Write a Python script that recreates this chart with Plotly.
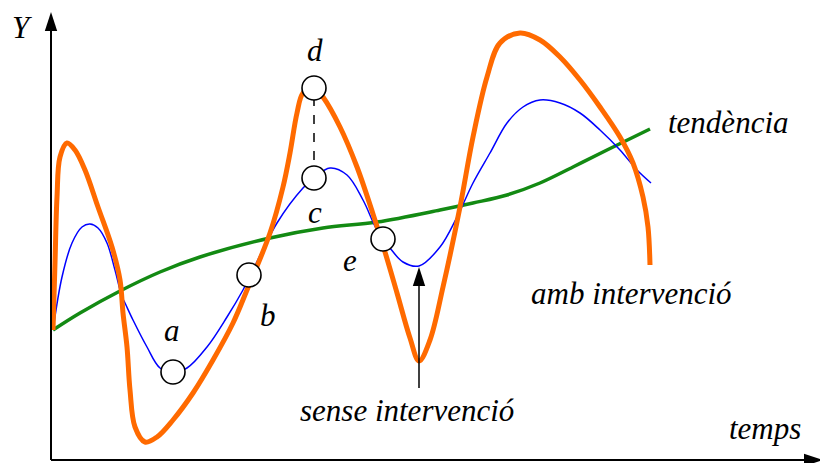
import plotly.graph_objects as go

# time axis (t) and value axis (y)
orange_t = [2, 4, 6, 9, 16, 24, 34, 47, 61, 69, 72, 76, 79, 84, 94, 106, 122, 142, 162, 182,
            196, 219, 232, 239, 246, 252, 263, 272, 289, 306, 322, 334, 346, 359, 368, 379, 392,
            409, 422, 436, 449, 469, 489, 509, 529, 549, 569, 582, 592, 597, 599]
orange_y = [130, 197, 263, 303, 317, 310, 290, 253, 213, 180, 147, 113, 70, 33, 18, 23, 40, 67, 100, 137,
            170, 227, 273, 307, 347, 367, 373, 363, 333, 293, 246, 208, 167, 122, 99, 120, 173,
            253, 323, 383, 417, 427, 420, 403, 380, 353, 323, 297, 263, 233, 195]

blue_t = [2, 11, 21, 31, 39, 47, 56, 64, 71, 74, 82, 96, 109, 122, 136, 156, 176, 192, 226, 252,
          263, 279, 296, 312, 326, 339, 352, 368, 389, 406, 422, 439, 456, 472, 489, 509, 529,
          549, 569, 586, 600]
blue_y = [130, 183, 217, 233, 236, 232, 217, 190, 163, 157, 140, 113, 92, 88, 92, 113, 143, 170, 237, 272,
          282, 292, 285, 260, 230, 212, 198, 194, 213, 243, 277, 307, 337, 353, 360, 357, 347,
          330, 310, 290, 277]

green_t = [2, 29, 69, 109, 149, 219, 272, 326, 389, 422, 456, 489, 522, 556, 599]
green_y = [130, 147, 169, 188, 203, 222, 232, 238, 250, 257, 265, 277, 293, 310, 331]

points = ["a", "b", "c", "d", "e"]
point_t = [122, 198, 263, 263, 332]
point_y = [88, 185, 282, 372, 221]

label_t = [121, 217, 264, 264, 299]
label_y = [130, 145, 248, 410, 200]

# axis ends and the "sense intervenció" pointer
axis_end_t = 772
axis_end_y = 448
pointer_t = 368
pointer_y = [72, 193]

fig = go.Figure()

fig.add_trace(go.Scatter(x=green_t, y=green_y, mode="lines",
                         line=dict(color="#138a13", width=3.5, shape="spline")))
fig.add_trace(go.Scatter(x=blue_t, y=blue_y, mode="lines",
                         line=dict(color="#0000ff", width=1.5, shape="spline")))
fig.add_trace(go.Scatter(x=orange_t, y=orange_y, mode="lines",
                         line=dict(color="#ff6a00", width=5, shape="spline")))
# dashed link between c and d
fig.add_trace(go.Scatter(x=[point_t[2], point_t[3]], y=[point_y[2], point_y[3]], mode="lines",
                         line=dict(color="black", width=1.5, dash="dash")))
fig.add_trace(go.Scatter(x=point_t, y=point_y, mode="markers",
                         marker=dict(size=24, color="white", line=dict(color="black", width=1.6))))

# axes
fig.add_trace(go.Scatter(x=[0, axis_end_t - 12], y=[0, 0], mode="lines",
                         line=dict(color="black", width=2)))
fig.add_trace(go.Scatter(x=[0, 0], y=[0, axis_end_y - 12], mode="lines",
                         line=dict(color="black", width=2)))
fig.add_trace(go.Scatter(x=[pointer_t, pointer_t], y=[pointer_y[0], pointer_y[1] - 12], mode="lines",
                         line=dict(color="black", width=1.5)))
fig.add_trace(go.Scatter(x=[axis_end_t, 0, pointer_t], y=[0, axis_end_y, pointer_y[1]], mode="markers",
                         marker=dict(symbol="arrow", size=20, angle=[90, 0, 0], color="black",
                                     line=dict(width=0))))

font = dict(family="Liberation Serif", size=31, color="black")

annotations = []
for name, t, y in zip(points, label_t, label_y):
    annotations.append(dict(x=t, y=y, text="<i>" + name + "</i>", showarrow=False, font=font))

annotations.append(dict(x=-29, y=433, text="<i>Y</i>", showarrow=False, font=font))
annotations.append(dict(x=714, y=32, text="<i>temps</i>", showarrow=False, font=font))
annotations.append(dict(x=677, y=338, text="<i>tendència</i>", showarrow=False, font=font))
annotations.append(dict(x=580, y=167, text="<i>amb intervenció</i>", showarrow=False, font=font))
annotations.append(dict(x=356, y=50, text="<i>sense intervenció</i>", showarrow=False, font=font))

fig.update_layout(
    width=828,
    height=463,
    margin=dict(l=0, r=0, t=0, b=0),
    paper_bgcolor="white",
    plot_bgcolor="white",
    showlegend=False,
    # ranges shifted by the 8px page margin
    xaxis=dict(range=[-43, 785], visible=False),
    yaxis=dict(range=[-11, 452], visible=False),
    annotations=annotations,
)

fig.write_html("out.html")
